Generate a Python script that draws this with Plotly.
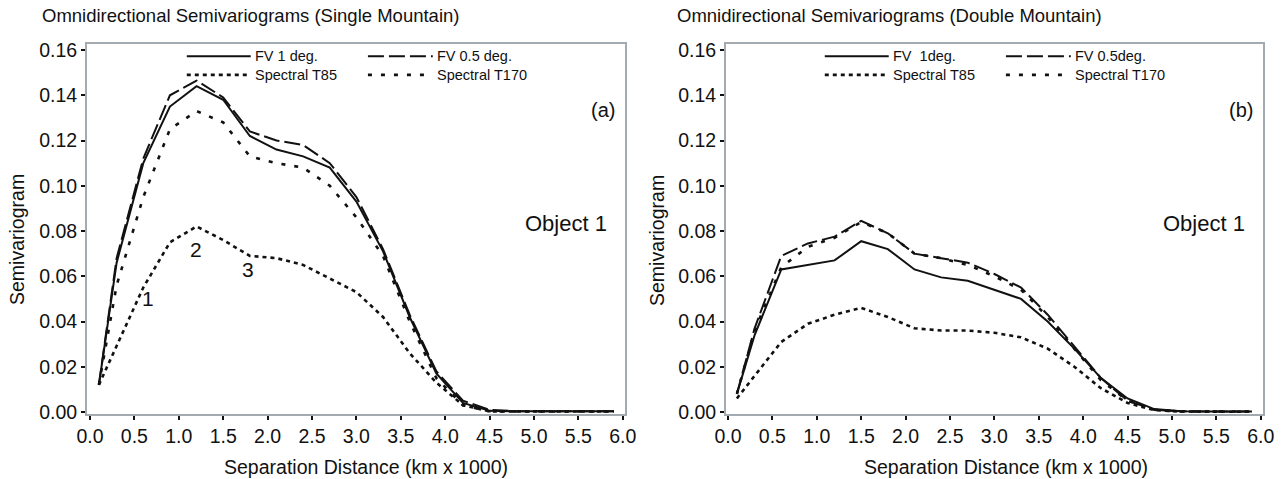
import plotly.graph_objects as go

# ---------------- data ----------------
lag_km1000 = [0.1, 0.3, 0.6, 0.9, 1.2, 1.5, 1.8, 2.1, 2.4, 2.7, 3.0, 3.3, 3.6, 3.9,
              4.2, 4.5, 4.8, 5.1, 5.4, 5.7, 5.9]

single_fv1 = [0.012, 0.066, 0.110, 0.135, 0.144, 0.138, 0.122, 0.116, 0.113, 0.108, 0.093,
              0.071, 0.042, 0.017, 0.004, 0.0005, 0.0003, 0.0003, 0.0003, 0.0003, 0.0003]
single_fv05 = [0.012, 0.068, 0.112, 0.140, 0.1465, 0.139, 0.124, 0.120, 0.118, 0.110, 0.095,
               0.072, 0.043, 0.018, 0.005, 0.001, 0.0003, 0.0003, 0.0003, 0.0003, 0.0003]
single_t85 = [0.012, 0.029, 0.055, 0.075, 0.082, 0.076, 0.069, 0.068, 0.065, 0.059, 0.053,
              0.042, 0.026, 0.013, 0.003, 0.0003, 0.0002, 0.0002, 0.0002, 0.0002, 0.0002]
single_t170 = [0.012, 0.056, 0.095, 0.125, 0.133, 0.128, 0.113, 0.110, 0.108, 0.100, 0.086,
               0.069, 0.040, 0.015, 0.003, 0.0003, 0.0002, 0.0002, 0.0002, 0.0002, 0.0002]

double_fv1 = [0.008, 0.034, 0.063, 0.065, 0.067, 0.0755, 0.072, 0.063, 0.0595, 0.058, 0.054,
              0.050, 0.040, 0.028, 0.015, 0.006, 0.0013, 0.0003, 0.0002, 0.0002, 0.0002]
double_fv05 = [0.008, 0.037, 0.069, 0.0745, 0.0775, 0.0845, 0.079, 0.070, 0.068, 0.066, 0.061,
               0.055, 0.043, 0.029, 0.015, 0.005, 0.001, 0.0003, 0.0002, 0.0002, 0.0002]
double_t85 = [0.006, 0.016, 0.031, 0.039, 0.043, 0.046, 0.042, 0.037, 0.036, 0.036, 0.035,
              0.033, 0.028, 0.020, 0.0105, 0.004, 0.0008, 0.0002, 0.0001, 0.0001, 0.0001]
double_t170 = [0.008, 0.036, 0.064, 0.073, 0.077, 0.084, 0.079, 0.070, 0.068, 0.065, 0.060,
               0.054, 0.042, 0.028, 0.014, 0.005, 0.001, 0.0002, 0.0002, 0.0002, 0.0002]

x_tickvals = [0.0, 0.5, 1.0, 1.5, 2.0, 2.5, 3.0, 3.5, 4.0, 4.5, 5.0, 5.5, 6.0]
x_ticktext = ["0.0", "0.5", "1.0", "1.5", "2.0", "2.5", "3.0", "3.5", "4.0", "4.5", "5.0", "5.5", "6.0"]
y_tickvals = [0.00, 0.02, 0.04, 0.06, 0.08, 0.10, 0.12, 0.14, 0.16]
y_ticktext = ["0.00", "0.02", "0.04", "0.06", "0.08", "0.10", "0.12", "0.14", "0.16"]

titles = ["Omnidirectional Semivariograms (Single Mountain)",
          "Omnidirectional Semivariograms (Double Mountain)"]
legend_left = ["FV 1 deg.", "FV 0.5 deg.", "Spectral T85", "Spectral T170"]
legend_right = ["FV  1deg.", "FV 0.5deg.", "Spectral T85", "Spectral T170"]
panel_tags = ["(a)", "(b)"]
object_label = "Object 1"
curve_marks = ["1", "2", "3"]
curve_mark_x = [0.65, 1.19, 1.78]
curve_mark_y = [0.050, 0.072, 0.063]
x_title = "Separation Distance (km x 1000)"
y_title = "Semivariogram"

# ---------------- styles ----------------
W, H = 1288, 479
FONT = "Liberation Sans, Arial, sans-serif"
NARROW = "Liberation Sans Narrow, Liberation Sans, Arial, sans-serif"
INK = "#111111"
FRAME = "#a3abb0"
styles = [
    dict(dash="solid", width=2.0),
    dict(dash="16px,5px", width=2.0),
    dict(dash="4px,4px", width=2.6),
    dict(dash="4px,9px", width=2.6),
]

fig = go.Figure()

panels = [
    dict(series=[single_fv1, single_fv05, single_t85, single_t170], xa="x", ya="y",
         legend=legend_left, px=(87, 625), x0px=90, xtitle_px=366, ytitle_px=17, title_px=40),
    dict(series=[double_fv1, double_fv05, double_t85, double_t170], xa="x2", ya="y2",
         legend=legend_right, px=(726, 1263), x0px=728, xtitle_px=1006, ytitle_px=657, title_px=675),
]

unit_px = 88.8
top_px, bot_px = 44, 414
y_unit_px = 2262.5
y_zero_px = 412

layout_axes = {}
annotations = []
shapes = []

for i, p in enumerate(panels):
    for vals, lab, st in zip(p["series"], p["legend"], styles):
        fig.add_trace(go.Scatter(
            x=lag_km1000, y=vals, mode="lines", name=lab, showlegend=False,
            line=dict(color=INK, width=st["width"], dash=st["dash"]),
            xaxis=p["xa"], yaxis=p["ya"], hoverinfo="skip"))

    l_px, r_px = p["px"]
    xr = [(l_px - p["x0px"]) / unit_px, (r_px - p["x0px"]) / unit_px]
    yr = [(y_zero_px - bot_px) / y_unit_px, (y_zero_px - top_px) / y_unit_px]
    suffix = "" if i == 0 else "2"
    axis_common = dict(showline=True, linecolor=FRAME, linewidth=2, mirror=True,
                       ticks="outside", ticklen=4, tickwidth=2, tickcolor=INK,
                       showgrid=False, zeroline=False, automargin=False,
                       tickfont=dict(family=FONT, size=19.5, color=INK))
    layout_axes["xaxis" + suffix] = dict(
        axis_common, domain=[l_px / W, r_px / W], range=xr,
        tickvals=x_tickvals, ticktext=x_ticktext, anchor="y" + suffix)
    layout_axes["yaxis" + suffix] = dict(
        axis_common, domain=[1 - bot_px / H, 1 - top_px / H], range=yr,
        tickvals=y_tickvals, ticktext=y_ticktext, anchor="x" + suffix)

    xref, yref = p["xa"], p["ya"]
    # legend (drawn in-plot, 2x2)
    cols = [(1.09, 1.81), (3.13, 3.86)]
    rows = [0.1572, 0.1490]
    order = [(0, 0), (0, 1), (1, 0), (1, 1)]
    for k, (r, c) in enumerate(order):
        x0, x1 = cols[c]
        st = styles[k]
        shapes.append(dict(type="line", xref=xref, yref=yref, x0=x0, x1=x1,
                           y0=rows[r], y1=rows[r],
                           line=dict(color=INK, width=st["width"], dash=st["dash"])))
        annotations.append(dict(xref=xref, yref=yref, x=x1 + 0.02, y=rows[r],
                                text=p["legend"][k], showarrow=False, xanchor="left",
                                yanchor="middle",
                                font=dict(family=FONT, size=14.5, color=INK)))
    # panel tag and object label
    annotations.append(dict(xref=xref, yref=yref, x=5.78, y=0.1335, text=panel_tags[i],
                            showarrow=False, xanchor="center", yanchor="middle",
                            font=dict(family=NARROW, size=20, color=INK)))
    annotations.append(dict(xref=xref, yref=yref, x=5.36, y=0.0835, text=object_label,
                            showarrow=False, xanchor="center", yanchor="middle",
                            font=dict(family=NARROW, size=22, color=INK)))
    # titles
    annotations.append(dict(xref="paper", yref="paper", x=p["title_px"] / W, y=1 - 16 / H,
                            text=titles[i], showarrow=False, xanchor="left", yanchor="middle",
                            font=dict(family=FONT, size=18.5, color=INK)))
    annotations.append(dict(xref="paper", yref="paper", x=p["xtitle_px"] / W, y=1 - 467 / H,
                            text=x_title, showarrow=False, xanchor="center", yanchor="middle",
                            font=dict(family=FONT, size=19.5, color=INK)))
    annotations.append(dict(xref="paper", yref="paper", x=p["ytitle_px"] / W, y=1 - 240 / H,
                            text=y_title, showarrow=False, xanchor="center", yanchor="middle",
                            textangle=-90,
                            font=dict(family=FONT, size=19.5, color=INK)))

for t, xv, yv in zip(curve_marks, curve_mark_x, curve_mark_y):
    annotations.append(dict(xref="x", yref="y", x=xv, y=yv, text=t, showarrow=False,
                            xanchor="center", yanchor="middle",
                            font=dict(family=NARROW, size=21, color=INK)))

fig.update_layout(
    width=W, height=H, margin=dict(l=0, r=0, t=0, b=0, autoexpand=False),
    paper_bgcolor="white", plot_bgcolor="white", showlegend=False,
    annotations=annotations, shapes=shapes, **layout_axes)

fig.write_html("out.html", config={"displayModeBar": False})
